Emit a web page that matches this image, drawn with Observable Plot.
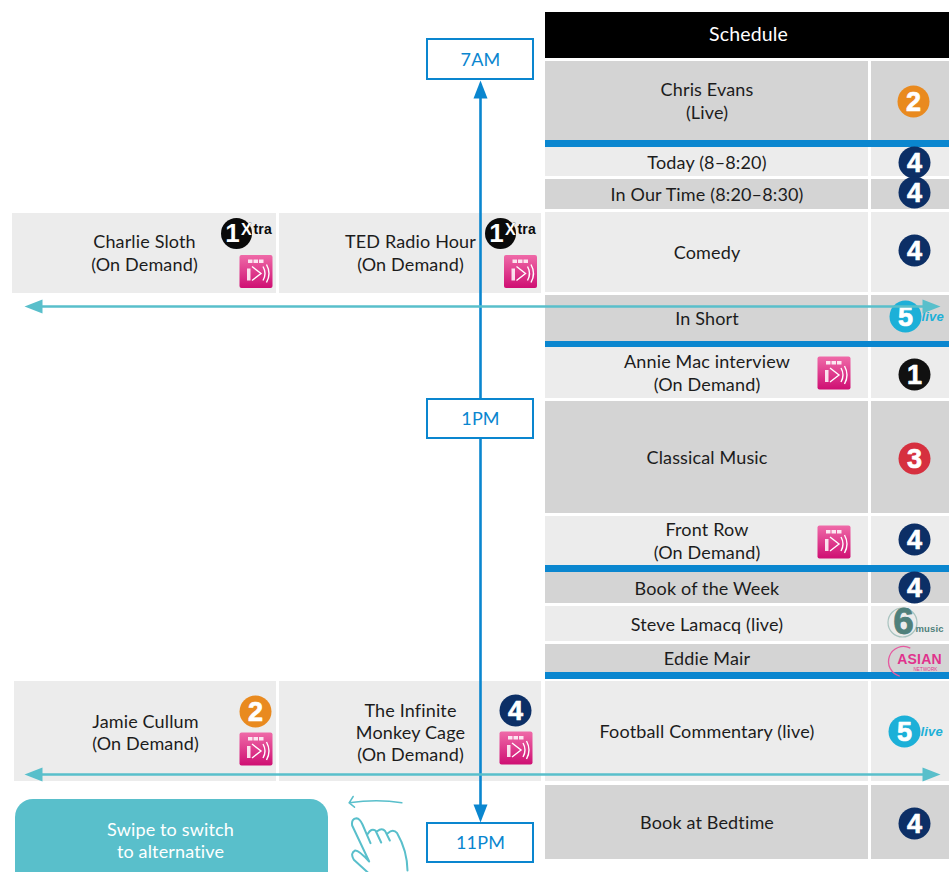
<!DOCTYPE html>
<html>
<head>
<meta charset="utf-8">
<script src="https://cdn.jsdelivr.net/npm/d3@7"></script>
<script src="https://cdn.jsdelivr.net/npm/@observablehq/plot@0.6"></script>
<style>html,body{margin:0;padding:0;background:#fff}svg{display:block}</style>
</head>
<body>
<div id="chart"></div>
<script>
// Main schedule column
const rowLabels = ["Chris Evans\n(Live)", "Today (8–8:20)", "In Our Time (8:20–8:30)", "Comedy", "In Short", "Annie Mac interview\n(On Demand)", "Classical Music", "Front Row\n(On Demand)", "Book of the Week", "Steve Lamacq (live)", "Eddie Mair", "Football Commentary (live)", "Book at Bedtime"];
const rowTop = [61, 147, 179, 212, 295, 347, 401, 516, 572, 606, 644, 681, 785];
const rowBottom = [140, 176, 209, 292, 341, 398, 513, 565, 603, 641, 672, 781, 859];
const rowShade = ["dark", "light", "dark", "light", "dark", "light", "dark", "light", "dark", "light", "dark", "light", "dark"];
// Alternative programmes
const altLabels = ["Charlie Sloth\n(On Demand)", "TED Radio Hour\n(On Demand)", "Jamie Cullum\n(On Demand)", "The Infinite\nMonkey Cage\n(On Demand)"];
const altLeft = [12, 279, 14, 279];
const altRight = [276, 541, 276, 541];
const altTop = [213, 213, 681, 681];
const altBottom = [293, 293, 781, 781];
// Section dividers
const bandTop = [140, 341, 565, 672];
const bandBottom = [147, 347, 572, 679];
// Numbered station logos
const logoDigit = ["2", "4", "4", "4", "1", "3", "4", "4", "2", "4", "4"];
const logoX = [913, 914, 914, 914, 914, 914, 914, 914, 255, 515, 914];
const logoY = [101, 162, 192, 250, 374, 458, 539, 587, 711, 710, 823];
const xtraX = [236, 500];
const xtraY = [233, 233];
const fiveX = [905, 904];
const fiveY = [316, 731];
const iplayerX = [255.5, 520, 833.5, 833.5, 255.5, 515.5];
const iplayerY = [271, 271, 372.5, 541.5, 748.5, 747.5];
// Time markers
const timeLabels = ["7AM", "1PM", "11PM"];
const timeTop = [39, 399, 823];
const timeBottom = [79, 438, 862];
const timeAxisX = [480];
// Swipe arrows
const swipeArrowY = [306, 774];
const swipeArrowStart = [24, 24];
const swipeArrowEnd = [940, 940];
const promptText = ["Swipe to switch\nto alternative"];

const BLUE = "#0a86cf", TEAL = "#59bfcb", INK = "#1c1c1c", FONT = "Lato, 'Noto Sans', sans-serif";
const zip = (o) => { const k = Object.keys(o); return o[k[0]].map((_, i) => Object.fromEntries(k.map(n => [n, o[n][i]]))); };
const rows = zip({label: rowLabels, top: rowTop, bottom: rowBottom, shade: rowShade}).map(d => ({...d, mid: (d.top + d.bottom) / 2}));
const alts = zip({label: altLabels, left: altLeft, right: altRight, top: altTop, bottom: altBottom}).map(d => ({...d, cx: (d.left + d.right) / 2, mid: (d.top + d.bottom) / 2}));
const bands = zip({top: bandTop, bottom: bandBottom});
const logos = zip({digit: logoDigit, x: logoX, y: logoY});
const xtras = zip({x: xtraX, y: xtraY});
const fives = zip({x: fiveX, y: fiveY});
const iplayers = zip({x: iplayerX, y: iplayerY});
const times = zip({label: timeLabels, top: timeTop, bottom: timeBottom}).map(d => ({...d, mid: (d.top + d.bottom) / 2}));
const swipes = zip({y: swipeArrowY, a: swipeArrowStart, b: swipeArrowEnd});

// Shapes for arrowheads, icons and the hand, as Plot dot symbols
const headUp = {draw(c) { c.moveTo(0, 0); c.lineTo(7, 18); c.lineTo(-7, 18); c.closePath(); }};
const tileSym = {draw(c) { const s = 16.5, r = 2; c.moveTo(-s + r, -s); c.lineTo(s - r, -s); c.arc(s - r, -s + r, r, -Math.PI / 2, 0); c.lineTo(s, s - r); c.arc(s - r, s - r, r, 0, Math.PI / 2); c.lineTo(-s + r, s); c.arc(-s + r, s - r, r, Math.PI / 2, Math.PI); c.lineTo(-s, -s + r); c.arc(-s + r, -s + r, r, Math.PI, Math.PI * 1.5); c.closePath(); }};
const tileSolid = {draw(c) { [-8, -2.5, 3].forEach(x => c.rect(x, -12, 4.5, 3.5)); c.rect(-9, -3, 3.5, 12); }};
const tileLine = {draw(c) { c.moveTo(-4, -5); c.lineTo(5, 2); c.lineTo(-4, 9); c.moveTo(7, -5); c.quadraticCurveTo(11, 2, 7, 9); c.moveTo(10.5, -7); c.quadraticCurveTo(15.5, 2, 10.5, 11); }};
const ringSym = {draw(c) { c.arc(0, 0, 14.5, 0, 2 * Math.PI); }};
const asianArc = {draw(c) { c.arc(0, 0, 15, -1.1, -Math.PI * 1.42, true); }};
const handSym = {draw(c) {
  const P = (x, y) => [x / 3, y / 3];
  c.moveTo(...P(82, 246)); c.lineTo(...P(40, 208)); c.quadraticCurveTo(...P(28, 188), ...P(44, 180)); c.quadraticCurveTo(...P(54, 178), ...P(86, 213));
  c.lineTo(...P(35, 105)); c.quadraticCurveTo(...P(32, 84), ...P(48, 83)); c.quadraticCurveTo(...P(58, 84), ...P(66, 102)); c.lineTo(...P(90, 158));
  c.moveTo(...P(82, 130)); c.quadraticCurveTo(...P(92, 112), ...P(105, 120)); c.lineTo(...P(122, 156));
  c.moveTo(...P(110, 122)); c.quadraticCurveTo(...P(125, 110), ...P(134, 122)); c.lineTo(...P(148, 150));
  c.moveTo(...P(142, 128)); c.quadraticCurveTo(...P(158, 114), ...P(170, 128)); c.quadraticCurveTo(...P(200, 180), ...P(201, 240));
}};
const swipeSym = {draw(c) {
  const P = (x, y) => [x / 3, y / 3];
  c.moveTo(...P(184, 37)); c.quadraticCurveTo(...P(110, 24), ...P(26, 37));
  c.moveTo(...P(38, 18)); c.lineTo(...P(26, 37)); c.lineTo(...P(42, 50));
}};

const cellText = {fontFamily: FONT, fontSize: 18, fill: INK, lineHeight: 1.24, lineAnchor: "middle", textAnchor: "middle"};

const chart = Plot.plot({
  width: 949, height: 872,
  margin: 0,
  x: {domain: [0, 949], range: [0, 949], axis: null},
  y: {domain: [0, 872], range: [0, 872], axis: null},
  color: {type: "ordinal", domain: ["light", "dark"], range: ["#ececec", "#d4d4d4"]},
  style: {background: "#fff", fontFamily: FONT, letterSpacing: "0.15px"},
  marks: [
    // Schedule header
    Plot.rect(["Schedule"], {x1: () => 545, x2: () => 949, y1: () => 12, y2: () => 58, fill: "black"}),
    Plot.text(["Schedule"], {x: () => 748, y: () => 34.5, text: d => d, fill: "white", fontFamily: FONT, fontSize: 19.5}),
    // Schedule rows
    Plot.rect(rows, {x1: () => 545, x2: () => 868, y1: "top", y2: "bottom", fill: "shade"}),
    Plot.rect(rows, {x1: () => 871, x2: () => 949, y1: "top", y2: "bottom", fill: "shade"}),
    Plot.rect(alts, {x1: "left", x2: "right", y1: "top", y2: "bottom", fill: () => "light"}),
    Plot.rect(bands, {x1: () => 545, x2: () => 949, y1: "top", y2: "bottom", fill: BLUE}),
    Plot.text(rows, {...cellText, x: () => 706.5, y: d => d.mid - 0.5, text: "label"}),
    Plot.text(alts, {...cellText, x: "cx", y: d => d.mid + (d.top > 500 ? 0.5 : -1), text: "label"}),
    // iPlayer tiles
    Plot.dot(iplayers, {x: "x", y: "y", symbol: tileSym, r: 10, fill: "url(#ipl)", stroke: "none"}),
    Plot.dot(iplayers, {x: "x", y: "y", symbol: tileSolid, r: 10, fill: "white", stroke: "none", fillOpacity: 0.85}),
    Plot.dot(iplayers, {x: "x", y: "y", symbol: tileLine, r: 10, fill: "none", stroke: "white", strokeWidth: 1.4}),
    // Numbered station logos
    Plot.dot(logos, {x: "x", y: "y", r: 16, fill: d => ({"1": "#111", "2": "#e98a1f", "3": "#d6303f", "4": "#0c2f66"}[d.digit]), stroke: "none"}),
    Plot.text(logos, {x: "x", y: "y", text: "digit", dy: 0.5, fill: "white", stroke: "white", strokeWidth: 0.7, fontFamily: "'Liberation Sans'", fontWeight: 700, fontSize: 27}),
    // 1Xtra
    Plot.dot(xtras, {x: "x", y: "y", r: 15.5, fill: "#0a0a0a", stroke: "none"}),
    Plot.text(xtras, {x: "x", y: "y", dx: -4, text: () => "1", fill: "white", fontFamily: "'Liberation Sans'", fontWeight: 700, fontSize: 26}),
    Plot.text(xtras, {x: "x", y: "y", dx: 10, dy: -4, text: () => "X", fill: "white", stroke: "#0a0a0a", strokeWidth: 0.4, fontFamily: "'Liberation Sans'", fontWeight: 700, fontSize: 16}),
    Plot.text(xtras, {x: "x", y: "y", dx: 17, dy: -4, textAnchor: "start", text: () => "tra", fill: "#0a0a0a", fontFamily: "'Liberation Sans Narrow','Liberation Sans'", fontWeight: 700, fontSize: 14}),
    // 5 live
    Plot.dot(fives, {x: "x", y: "y", r: 16, fill: "#1cb0d8", stroke: "none"}),
    Plot.text(fives, {x: "x", y: "y", text: () => "5", dy: 0.5, fill: "white", stroke: "white", strokeWidth: 0.7, fontFamily: "'Liberation Sans'", fontWeight: 700, fontSize: 27}),
    Plot.text(fives, {x: "x", y: "y", dx: 16, textAnchor: "start", text: () => "live", fill: "#1cb0d8", fontFamily: "'Liberation Sans'", fontWeight: 700, fontStyle: "italic", fontSize: 13}),
    // 6 music
    Plot.dot(["6"], {x: () => 902, y: () => 622, symbol: ringSym, r: 10, fill: "none", stroke: "#a8c3bf", strokeWidth: 1.2}),
    Plot.text(["6"], {x: () => 903, y: () => 622, text: d => d, fill: "#4f807b", stroke: "#4f807b", strokeWidth: 0.8, fontFamily: "'Liberation Sans'", fontWeight: 700, fontSize: 37}),
    Plot.text(["music"], {x: () => 915, y: () => 628, text: d => d, textAnchor: "start", fill: "#4f807b", fontFamily: "'Liberation Sans'", fontWeight: 700, fontSize: 9.5}),
    // Asian Network
    Plot.dot(["arc"], {x: () => 903, y: () => 661, symbol: asianArc, r: 10, fill: "none", stroke: "#e65aa0", strokeWidth: 1.3}),
    Plot.text(["ASIAN"], {x: () => 919, y: () => 659, text: d => d, fill: "#e0338c", fontFamily: "'Liberation Sans'", fontWeight: 700, fontSize: 14}),
    Plot.text(["NETWORK"], {x: () => 925, y: () => 669.5, text: d => d, fill: "#e0338c", fontFamily: "'Liberation Sans'", fontSize: 4.5}),
    // Time axis
    Plot.ruleX(timeAxisX, {y1: () => 96, y2: () => 399, stroke: BLUE, strokeWidth: 2.6}),
    Plot.ruleX(timeAxisX, {y1: () => 438, y2: () => 806, stroke: BLUE, strokeWidth: 2.6}),
    Plot.dot(timeAxisX, {x: d => d, y: () => 80, symbol: headUp, r: 10, rotate: 0, fill: BLUE, stroke: "none"}),
    Plot.dot(timeAxisX, {x: d => d, y: () => 822, symbol: headUp, r: 10, rotate: 180, fill: BLUE, stroke: "none"}),
    Plot.rect(times, {x1: () => 427, x2: () => 533, y1: "top", y2: "bottom", fill: "white", stroke: BLUE, strokeWidth: 2}),
    Plot.text(times, {x: () => 480, y: d => d.mid + 0.5, text: "label", fill: BLUE, fontFamily: FONT, fontSize: 18}),
    // Swipe arrows
    Plot.ruleY(swipes, {y: "y", x1: d => d.a + 15, x2: d => d.b - 15, stroke: TEAL, strokeWidth: 2.6}),
    Plot.dot(swipes, {x: "a", y: "y", symbol: headUp, r: 10, rotate: -90, fill: TEAL, stroke: "none"}),
    Plot.dot(swipes, {x: "b", y: "y", symbol: headUp, r: 10, rotate: 90, fill: TEAL, stroke: "none"}),
    // Swipe prompt
    Plot.rect(promptText, {x1: () => 15, x2: () => 328, y1: () => 799, y2: () => 900, rx: 18, fill: TEAL}),
    Plot.text(promptText, {x: () => 170, y: () => 839.5, text: d => d, fill: "white", fontFamily: FONT, fontSize: 18, lineHeight: 1.22, lineAnchor: "middle"}),
    Plot.dot(["swipe"], {x: () => 340, y: () => 790, symbol: swipeSym, r: 10, fill: "none", stroke: TEAL, strokeWidth: 1.5, strokeLinecap: "round"}),
    Plot.dot(["hand"], {x: () => 340, y: () => 790, symbol: handSym, r: 10, fill: "none", stroke: TEAL, strokeWidth: 2, strokeLinecap: "round", strokeLinejoin: "round"})
  ]
});

// Gradient used by the iPlayer tiles
const ns = "http://www.w3.org/2000/svg";
const defs = document.createElementNS(ns, "defs");
defs.innerHTML = '<linearGradient id="ipl" x1="0" y1="0" x2="0" y2="1"><stop offset="0" stop-color="#ef6aa8"/><stop offset="1" stop-color="#cf0f73"/></linearGradient>';
chart.insertBefore(defs, chart.firstChild);
document.getElementById("chart").appendChild(chart);
</script>
</body>
</html>
